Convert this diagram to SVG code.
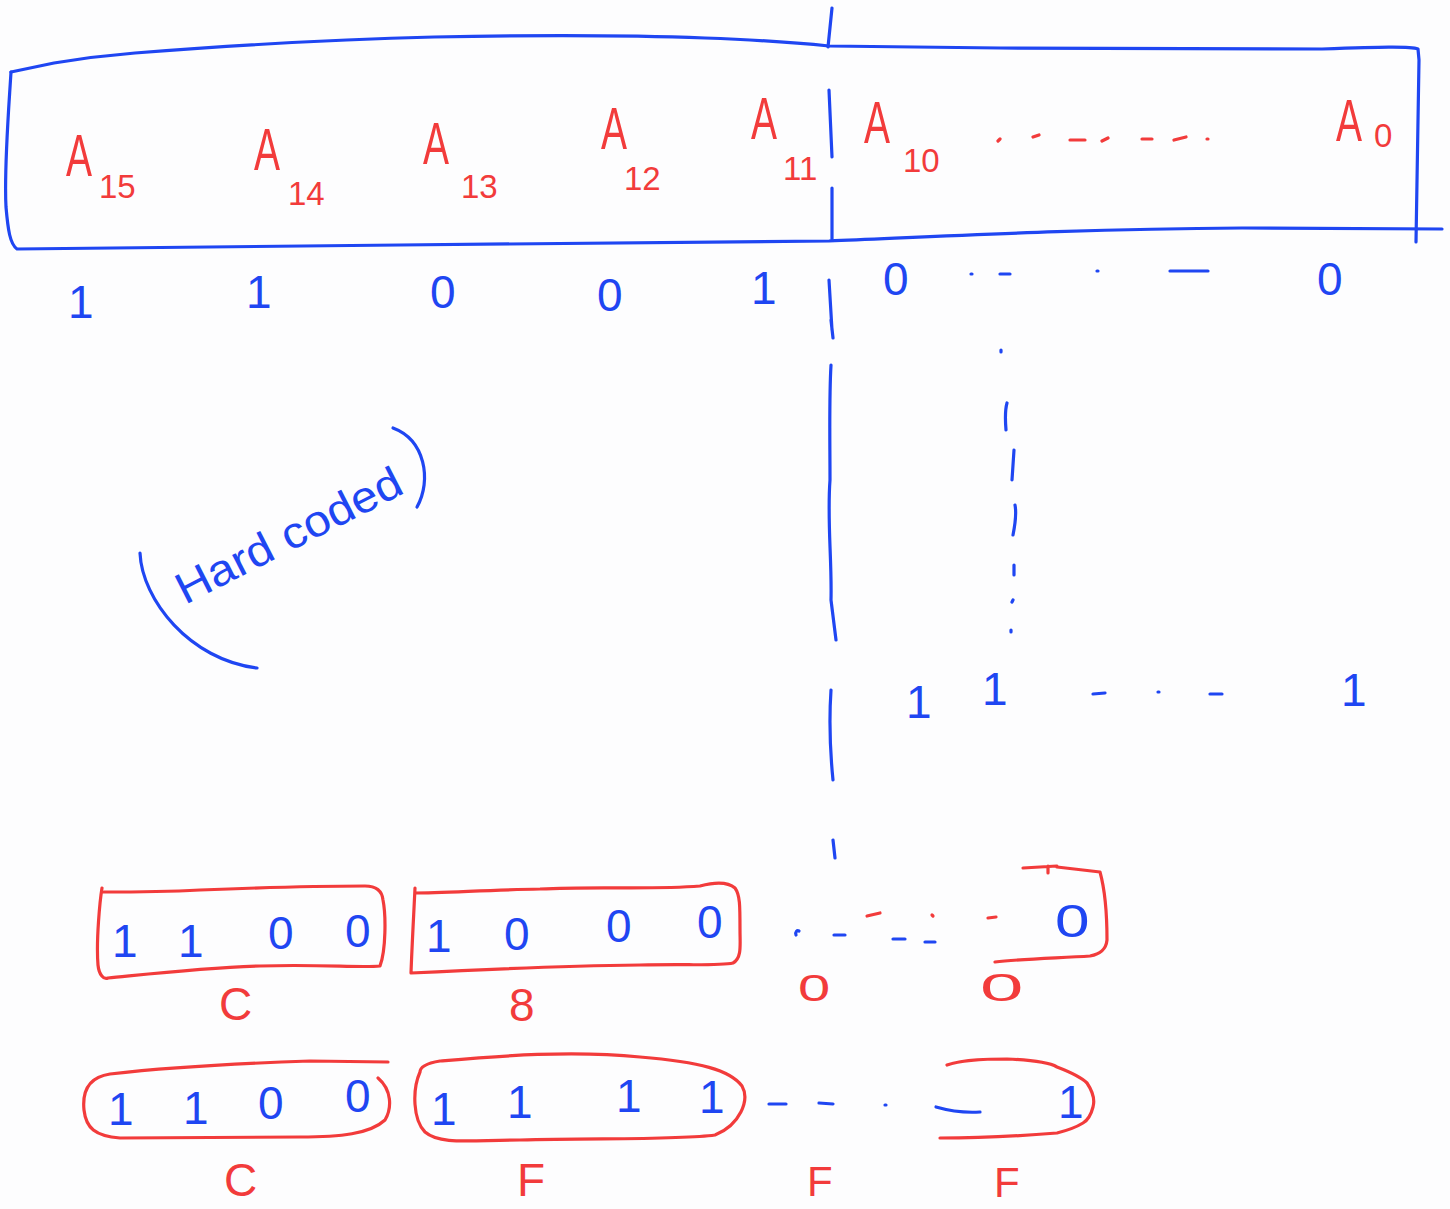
<svg xmlns="http://www.w3.org/2000/svg" width="1450" height="1209" viewBox="0 0 1450 1209">
<style>
.b{fill:none;stroke:#1f46f2;stroke-width:3.2;stroke-linecap:round;stroke-linejoin:round}
.r{fill:none;stroke:#f23b3b;stroke-width:3.2;stroke-linecap:round;stroke-linejoin:round}
.bt{fill:#1f46f2;font-family:"Liberation Sans",Arial,sans-serif}
.rt{fill:#f23b3b;font-family:"Liberation Sans",Arial,sans-serif}
.A{font-size:60px}
.s{font-size:33px}
.d{font-size:46px}
.h{font-size:44px}
.z{font-size:40px}
</style>
<rect width="1450" height="1209" fill="#fdfdfe"/>

<g id="address-register">
<path class="b" d="M 11,72 L 54,63 C 90,57 110,55 135,53 C 250,44 350,39 434,37 C 540,35 650,36 705,38 C 760,40 800,43 829,46 L 1000,48 L 1322,49 C 1380,47 1410,46 1418,49 L 1419,60 L 1416,242"/>
<path class="b" d="M 11,72 C 8,120 4,170 6,207 C 8,230 10,244 17,249 L 400,245 L 829,241 C 950,236 1080,229 1242,228 L 1442,229"/>
</g>

<g id="divider">
<path class="b" d="M 832,8 L 828,47 M 829,90 L 832,157 M 832,188 L 832,240 M 829,280 L 832,330 M 831,320 L 833,338 M 831,365 C 829,400 830,440 830,480 C 827,520 832,560 831,600 L 836,640 M 831,690 C 829,720 830,750 833,780 M 833,840 L 835,858"/>
</g>

<g id="labels-address">
<text class="rt A" x="66" y="176" transform="translate(66,0) scale(0.65,1) translate(-66,0)">A</text>
<text class="rt s" x="99" y="198">15</text>
<text class="rt A" x="254" y="170" transform="translate(254,0) scale(0.65,1) translate(-254,0)">A</text>
<text class="rt s" x="288" y="205">14</text>
<text class="rt A" x="423" y="164" transform="translate(423,0) scale(0.65,1) translate(-423,0)">A</text>
<text class="rt s" x="461" y="198">13</text>
<text class="rt A" x="601" y="149" transform="translate(601,0) scale(0.65,1) translate(-601,0)">A</text>
<text class="rt s" x="624" y="190">12</text>
<text class="rt A" x="751" y="139" transform="translate(751,0) scale(0.65,1) translate(-751,0)">A</text>
<text class="rt s" x="783" y="180">11</text>
<text class="rt A" x="864" y="143" transform="translate(864,0) scale(0.65,1) translate(-864,0)">A</text>
<text class="rt s" x="903" y="172">10</text>
<path class="r" d="M 998,141 L 1000,139 M 1033,137 L 1039,135 M 1070,140 L 1085,140 M 1102,141 L 1108,138 M 1142,139 L 1152,139 M 1174,140 L 1186,137 M 1207,139 L 1208,139"/>
<text class="rt A" x="1336" y="141" transform="translate(1336,0) scale(0.65,1) translate(-1336,0)">A</text>
<text class="rt s" x="1374" y="147">0</text>
</g>

<g id="bits-top">
<text class="bt d" x="68" y="318">1</text>
<text class="bt d" x="246" y="308">1</text>
<text class="bt d" x="430" y="308">0</text>
<text class="bt d" x="597" y="311">0</text>
<text class="bt d" x="751" y="304">1</text>
<text class="bt d" x="883" y="295">0</text>
<path class="b" d="M 971,274 L 972,274 M 1000,274 L 1010,274 M 1097,271 L 1098,271 M 1170,271 L 1208,271"/>
<text class="bt d" x="1317" y="295">0</text>
</g>

<g id="dotted-column">
<path class="b" d="M 1001,350 L 1001,352 M 1007,403 C 1005,410 1005,418 1006,430 M 1014,450 L 1012,480 M 1015,505 C 1017,515 1015,525 1013,535 M 1014,565 L 1014,575 M 1013,600 L 1012,602 M 1011,630 L 1011,632"/>
</g>

<g id="bits-ones">
<text class="bt d" x="906" y="718">1</text>
<text class="bt d" x="982" y="705">1</text>
<path class="b" d="M 1093,694 L 1105,693 M 1158,692 L 1159,692 M 1210,694 L 1222,694"/>
<text class="bt d" x="1341" y="706">1</text>
</g>

<g id="hard-coded">
<text class="bt h" x="0" y="0" transform="translate(185,605) rotate(-27)" textLength="248" lengthAdjust="spacingAndGlyphs">Hard coded</text>
<path class="b" d="M 140,553 C 142,600 190,660 257,668"/>
<path class="b" d="M 393,428 C 425,440 432,480 417,507"/>
</g>

<g id="nibble-c8-1">
<path class="r" d="M 102,888 C 100,900 96,940 98,965 C 99,975 104,980 108,978 C 140,975 200,968 260,966 C 320,964 360,968 380,966 C 386,950 386,915 383,900 C 382,890 376,886 365,886 C 300,886 250,888 200,890 C 160,892 120,892 104,892"/>
<text class="bt d" x="112" y="957">1</text>
<text class="bt d" x="178" y="957">1</text>
<text class="bt d" x="268" y="949">0</text>
<text class="bt d" x="345" y="947">0</text>
<text class="rt d" x="219" y="1020">C</text>
</g>

<g id="nibble-c8-2">
<path class="r" d="M 415,888 C 414,910 412,945 411,973 C 470,970 560,966 640,965 C 690,964 720,966 733,963 C 742,958 740,945 740,930 C 740,905 740,895 735,888 C 728,882 715,882 700,886 C 650,890 600,886 540,889 C 490,890 440,893 415,893"/>
<text class="bt d" x="426" y="952">1</text>
<text class="bt d" x="504" y="950">0</text>
<text class="bt d" x="606" y="942">0</text>
<text class="bt d" x="697" y="938">0</text>
<text class="rt d" x="509" y="1021">8</text>
</g>

<g id="nibble-c8-rest">
<path class="b" d="M 796,935 C 795,932 797,930 799,931 M 834,935 L 845,935 M 893,939 L 905,939 M 925,942 L 935,942"/>
<path class="r" d="M 867,916 L 880,913 M 932,915 L 933,916 M 988,918 L 996,917"/>
<text class="bt d" x="1055" y="937" transform="translate(1055,937) scale(1.35,1) translate(-1055,-937)">0</text>
<path class="r" d="M 1023,868 L 1057,866 M 1048,866 L 1048,873 M 1057,867 L 1100,872 C 1105,890 1107,910 1107,940 C 1106,950 1100,954 1090,956 C 1060,958 1020,959 995,962"/>
<text class="rt z" x="798" y="1001" transform="translate(798,1001) scale(1.45,0.9) translate(-798,-1001)">0</text>
<text class="rt z" x="980" y="1001" transform="translate(980,1001) scale(1.95,0.95) translate(-980,-1001)">0</text>
</g>

<g id="nibble-cf-1">
<path class="r" d="M 388,1062 L 310,1061 C 250,1063 180,1066 110,1074 C 90,1077 82,1090 84,1110 C 86,1128 95,1136 120,1138 C 180,1138 240,1137 300,1137 C 340,1137 370,1134 385,1120 C 392,1108 392,1090 378,1078"/>
<text class="bt d" x="108" y="1125">1</text>
<text class="bt d" x="183" y="1124">1</text>
<text class="bt d" x="258" y="1119">0</text>
<text class="bt d" x="345" y="1112">0</text>
<text class="rt d" x="224" y="1196">C</text>
</g>

<g id="nibble-cf-2">
<path class="r" d="M 420,1072 C 412,1090 413,1120 425,1132 C 440,1145 470,1140 520,1140 C 600,1138 680,1140 715,1135 C 740,1125 750,1100 742,1086 C 730,1070 700,1062 640,1057 C 570,1050 500,1056 440,1061 C 428,1063 420,1066 420,1072"/>
<text class="bt d" x="431" y="1125">1</text>
<text class="bt d" x="507" y="1118">1</text>
<text class="bt d" x="616" y="1112">1</text>
<text class="bt d" x="699" y="1113">1</text>
<text class="rt d" x="517" y="1196">F</text>
</g>

<g id="nibble-cf-rest">
<path class="b" d="M 769,1104 L 786,1104 M 819,1103 L 833,1104 M 885,1105 L 886,1105 M 936,1107 C 950,1111 965,1113 980,1112"/>
<text class="bt d" x="1058" y="1118">1</text>
<path class="r" d="M 947,1065 C 965,1059 990,1059 1007,1059 C 1030,1060 1050,1063 1057,1067 C 1070,1072 1082,1078 1087,1083 C 1093,1092 1095,1100 1093,1107 C 1091,1115 1088,1120 1083,1123 C 1075,1128 1065,1131 1057,1133 C 1020,1136 980,1138 940,1138"/>
<text class="rt" font-size="42" x="807" y="1196">F</text>
<text class="rt" font-size="42" x="994" y="1197">F</text>
</g>
</svg>
